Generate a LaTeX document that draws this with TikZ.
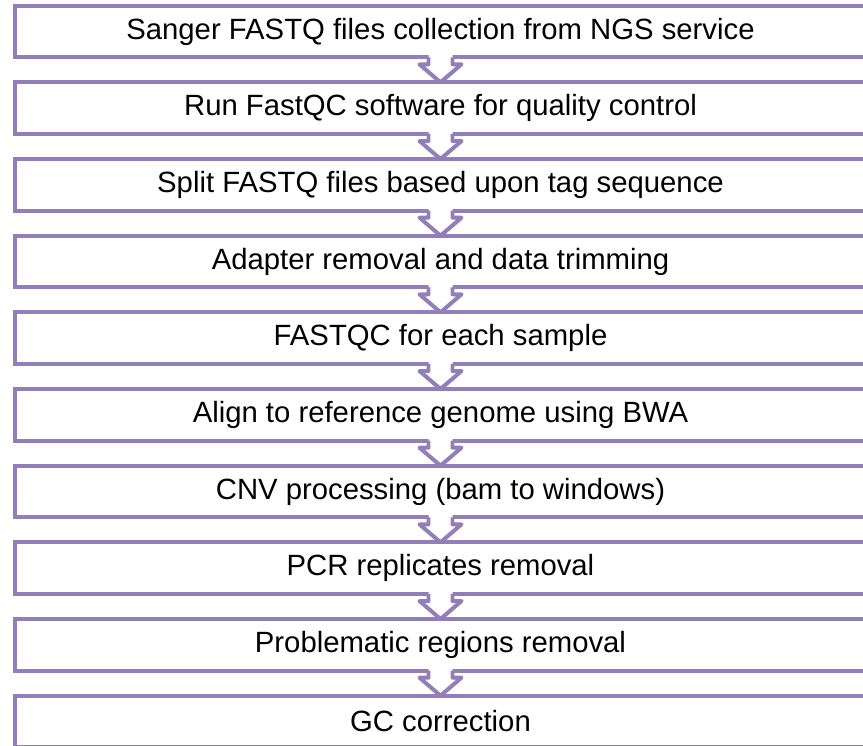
\documentclass[tikz,border=0pt]{standalone}
\usepackage{fontspec}
\setmainfont{Liberation Sans}
\usetikzlibrary{positioning,calc}

\definecolor{stepline}{RGB}{146,126,184}

\tikzset{
  stepbox/.style={draw=stepline, line width=3.4pt, fill=white, outer sep=0pt,
    minimum width=25.53cm, minimum height=1.55cm, inner sep=0pt,
    font=\fontsize{25}{29}\selectfont},
  flowline/.style={draw=stepline, line width=3.4pt, line join=round}
}

% down arrow between two boxes
\newcommand{\flowarrow}[2]{%
  \fill[white] ($(#1.south)+(-0.36,0.08)$) -- ($(#1.south)+(0.36,0.08)$)
    -- ($(#1.south)+(0.36,-0.21)$) -- ($(#1.south)+(0.63,-0.21)$) -- (#2.north)
    -- ($(#1.south)+(-0.63,-0.21)$) -- ($(#1.south)+(-0.36,-0.21)$) -- cycle;
  \draw[flowline] ($(#1.south)+(-0.36,0)$) -- ++(0,-0.21) -- ++(-0.27,0)
    -- (#2.north) -- ($(#1.south)+(0.63,-0.21)$) -- ++(-0.27,0) -- ++(0,0.21);
}

\begin{document}
\begin{tikzpicture}[node distance=0.75cm]

  \useasboundingbox (0,0) rectangle (25.89,-22.38);
  \clip (0,0) rectangle (25.89,-22.38);

  % Nodes

  \node[stepbox] (s1) at (13.215,-0.945) {Sanger FASTQ files collection from NGS service};
  \node[stepbox, below=of s1] (s2) {Run FastQC software for quality control};
  \node[stepbox, below=of s2] (s3) {Split FASTQ files based upon tag sequence};
  \node[stepbox, below=of s3] (s4) {Adapter removal and data trimming};
  \node[stepbox, below=of s4] (s5) {FASTQC for each sample};
  \node[stepbox, below=of s5] (s6) {Align to reference genome using BWA};
  \node[stepbox, below=of s6] (s7) {CNV processing (bam to windows)};
  \node[stepbox, below=of s7] (s8) {PCR replicates removal};
  \node[stepbox, below=of s8] (s9) {Problematic regions removal};
  \node[stepbox, below=of s9] (s10) {GC correction};

  % Edges

  \foreach \a/\b in {s1/s2, s2/s3, s3/s4, s4/s5, s5/s6, s6/s7, s7/s8, s8/s9, s9/s10}
    \flowarrow{\a}{\b};

\end{tikzpicture}
\end{document}
